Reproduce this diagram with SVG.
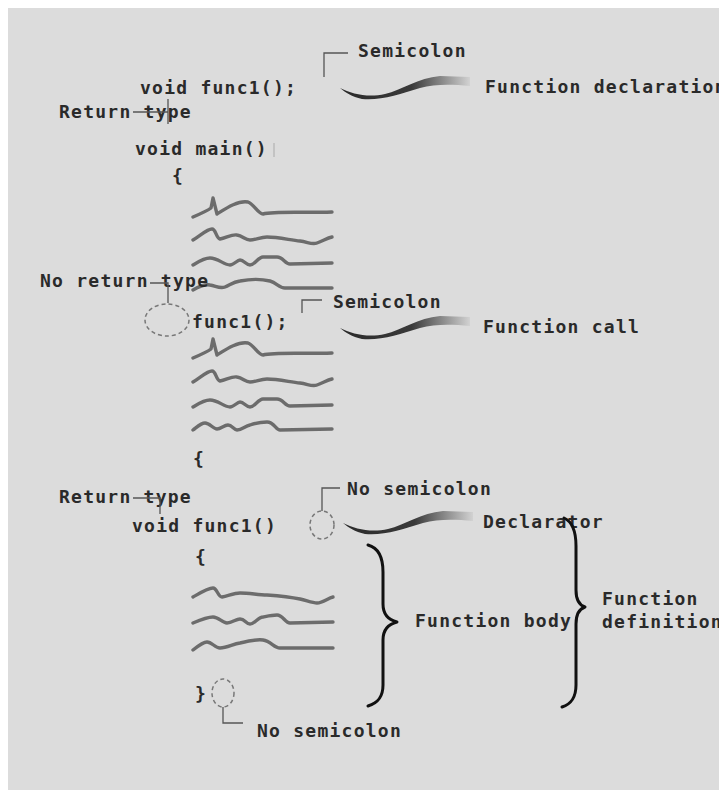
<svg xmlns="http://www.w3.org/2000/svg" width="719" height="790" viewBox="0 0 719 790">
<style>
.t{font-family:"DejaVu Sans Mono","Liberation Mono",monospace;font-size:18px;font-weight:bold;fill:#2a2a2a;letter-spacing:1.25px}
.sq{fill:none;stroke:#6c6c6c;stroke-width:3.4;stroke-linejoin:round;stroke-linecap:round}
.ld{fill:none;stroke:#555;stroke-width:1.3}
.dash{fill:none;stroke:#777;stroke-width:1.5;stroke-dasharray:4 3}
.br{fill:none;stroke:#111;stroke-width:3;stroke-linecap:round;stroke-linejoin:round}
</style>
<defs>
<linearGradient id="sw" x1="0" y1="0" x2="1" y2="0">
<stop offset="0" stop-color="#2a2a2a"/>
<stop offset="0.55" stop-color="#3a3a3a"/>
<stop offset="1" stop-color="#d2d2d2"/>
</linearGradient>
<path id="swoosh" d="M0,0 C12,6 28,10 45,6 C62,2 78,-10 100,-12 L130,-11 L130,-2 C110,-4 95,-4 80,0 C60,6 40,13 22,11 C12,9 5,4 0,0 Z" fill="url(#sw)"/>
<path id="w1" d="M193,217 C200,214 207,211 211,208 L213,198 L217,214 C225,209 238,200 248,202 C254,204 258,214 263,214 C275,211 300,213 332,212"/>
<path id="w2" d="M193,240 C200,236 207,229 212,229 C216,229 216,238 220,239 C226,238 232,234 237,235 C243,236 245,240 250,240 C256,240 260,237 267,237 C278,237 290,240 300,241 C308,242 312,245 317,243 C323,241 327,238 332,237"/>
<path id="w3" d="M193,265 C198,262 204,258 210,258 C218,258 224,265 230,265 C234,265 237,260 240,260 C244,260 246,265 250,265 C255,265 258,257 263,257 L277,257 C283,257 285,264 290,264 L332,263"/>
</defs>
<rect x="8" y="8" width="711" height="782" fill="#dcdcdc"/>

<g id="code">
<text class="t" x="140" y="94">void func1();</text>
<text class="t" x="135" y="155">void main()</text>
<line x1="274" y1="143" x2="274" y2="157" stroke="#bbb" stroke-width="1.5"/>
<text class="t" x="172" y="182">{</text>
<text class="t" x="192" y="328">func1();</text>
<text class="t" x="193" y="465">{</text>
<text class="t" x="132" y="532">void func1()</text>
<text class="t" x="195" y="563">{</text>
<text class="t" x="195" y="700">}</text>
</g>

<g id="body-lines">
<use href="#w1" class="sq"/>
<use href="#w2" class="sq"/>
<use href="#w3" class="sq"/>
<path class="sq" d="M193,290 C200,286 205,284 210,285 C216,286 220,289 225,287 C230,285 233,282 240,281 C250,279 262,279 270,281 C277,283 279,288 285,288 L332,288"/>
<use href="#w1" class="sq" y="141"/>
<use href="#w2" class="sq" y="142"/>
<use href="#w3" class="sq" y="142"/>
<path class="sq" d="M193,430 C197,427 201,423 205,423 C210,423 213,429 217,429 C221,429 224,425 228,425 C232,425 234,430 237,430 C242,430 245,426 250,425 C256,423 262,422 267,422 C274,422 276,430 280,430 L332,429"/>
<path class="sq" d="M193,597 C200,593 208,588 213,588 C217,588 218,597 222,597 C228,596 234,593 240,593 C250,593 258,595 267,595 C280,596 290,597 300,599 C308,601 313,603 317,603 C323,603 328,598 333,597"/>
<path class="sq" d="M193,623 C200,620 207,617 213,617 C219,617 222,623 227,623 C232,623 236,619 240,619 C245,619 246,624 250,624 C255,624 258,617 263,617 C268,616 272,615 277,615 C283,615 285,623 290,623 L333,622"/>
<path class="sq" d="M193,650 C198,646 203,642 207,642 C212,642 215,648 220,648 C227,648 233,644 240,643 C248,641 256,639 263,640 C271,641 274,648 280,648 L333,648"/>
</g>

<g id="return-type-1">
<text class="t" x="59" y="118" xml:space="preserve">Return type</text>
<path class="ld" d="M133,112 H168 M168,99 V124"/>
</g>

<g id="semicolon-1">
<path class="ld" d="M324,77 V53 H348"/>
<text class="t" x="358" y="57">Semicolon</text>
</g>

<g id="function-declaration">
<use href="#swoosh" x="340" y="88"/>
<text class="t" x="485" y="93">Function declaration</text>
</g>

<g id="no-return-type">
<text class="t" x="40" y="287" xml:space="preserve">No return type</text>
<path class="ld" d="M150,283 H168 V303"/>
<ellipse class="dash" cx="167" cy="320" rx="22" ry="16"/>
</g>

<g id="semicolon-2">
<path class="ld" d="M302,313 V300 H322"/>
<text class="t" x="333" y="308">Semicolon</text>
</g>

<g id="function-call">
<use href="#swoosh" x="340" y="328"/>
<text class="t" x="483" y="333">Function call</text>
</g>

<g id="return-type-2">
<text class="t" x="59" y="503" xml:space="preserve">Return type</text>
<path class="ld" d="M133,498 H160 V514"/>
</g>

<g id="no-semicolon-1">
<ellipse class="dash" cx="322" cy="525" rx="12" ry="14"/>
<path class="ld" d="M322,511 V488 H340"/>
<text class="t" x="347" y="495">No semicolon</text>
</g>

<g id="declarator">
<use href="#swoosh" x="343" y="523"/>
<text class="t" x="483" y="528">Declarator</text>
</g>

<g id="no-semicolon-2">
<ellipse class="dash" cx="223" cy="693" rx="11" ry="14"/>
<path class="ld" d="M223,707 V723 H243"/>
<text class="t" x="257" y="737">No semicolon</text>
</g>

<g id="function-body">
<path class="br" d="M368,545 C379,548 383,558 383,572 L383,604 C383,615 389,620 397,622 C389,624 383,629 383,640 L383,685 C383,697 378,703 368,706"/>
<text class="t" x="415" y="627">Function body</text>
</g>

<g id="function-definition">
<path class="br" d="M564,518 C573,522 576,532 576,546 L576,590 C576,600 579,605 585,607 C579,609 576,614 576,624 L576,685 C576,698 571,704 562,707"/>
<text class="t" x="602" y="605">Function</text>
<text class="t" x="602" y="628">definition</text>
</g>
</svg>
